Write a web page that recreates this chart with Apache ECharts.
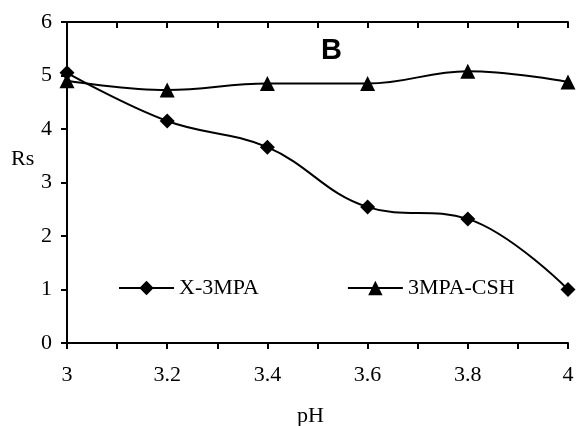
<!DOCTYPE html>
<html>
<head>
<meta charset="utf-8">
<script src="https://cdn.jsdelivr.net/npm/echarts@6/dist/echarts.min.js"></script>
<style>
  html, body { margin: 0; padding: 0; background: #fff; }
  #chart { width: 578px; height: 426px; }
</style>
</head>
<body>
<div id="chart"></div>
<script>
// pH values and the two Rs series
const phValues = [3.0, 3.2, 3.4, 3.6, 3.8, 4.0]
const x3mpa = [5.05, 4.15, 3.66, 2.54, 2.32, 1.0]
const csh3mpa = [4.9, 4.73, 4.85, 4.85, 5.08, 4.88]
const xTickLabels = ['3', '3.2', '3.4', '3.6', '3.8', '4']

const serif = '"Liberation Serif", "Times New Roman", serif'
const black = '#000'

function pairs(ys) {
  return phValues.map((x, i) => [x, ys[i]])
}

function xAxisBase(inside) {
  return {
    type: 'value',
    min: 3,
    max: 4,
    interval: 0.1,
    axisLine: { onZero: false, lineStyle: { color: black, width: 2 } },
    axisTick: { show: true, inside: inside, length: 6, lineStyle: { color: black, width: 2 } },
    splitLine: { show: false }
  }
}

let chart = echarts.init(document.getElementById('chart'), null, { renderer: 'canvas' })
let options = {
  animation: false,
  backgroundColor: '#fff',
  title: {
    text: 'B',
    left: 316,
    top: 31,
    textStyle: { fontFamily: '"Liberation Sans", Arial, sans-serif', fontWeight: 'bold', fontSize: 29, color: black }
  },
  graphic: [
    {
      type: 'text',
      left: 11,
      top: 148,
      style: { text: 'Rs', fontFamily: serif, fontSize: 22, fill: black }
    }
  ],
  grid: { left: 67, right: 10, top: 22, bottom: 83, outerBoundsMode: 'none', containLabel: false },
  legend: {
    left: 118,
    top: 277,
    padding: 0,
    itemWidth: 55,
    itemHeight: 18,
    itemGap: 88,
    textStyle: { fontFamily: serif, fontSize: 22, color: black },
    data: ['X-3MPA', '3MPA-CSH']
  },
  xAxis: [
    Object.assign(xAxisBase(false), {
      name: 'pH',
      nameLocation: 'middle',
      nameGap: 62,
      nameTextStyle: { fontFamily: serif, fontSize: 22, color: black, padding: [0, 14, 0, 0] },
      axisLabel: {
        margin: 21,
        fontFamily: serif,
        fontSize: 22,
        color: black,
        formatter: v => {
          let s = String(Math.round(v * 10) / 10)
          return xTickLabels.includes(s) ? s : ''
        }
      }
    }),
    Object.assign(xAxisBase(true), { axisLabel: { show: false } })
  ],
  yAxis: {
    type: 'value',
    min: 0,
    max: 6,
    interval: 1,
    axisLine: { onZero: false, lineStyle: { color: black, width: 2 } },
    axisTick: { show: true, length: 6, lineStyle: { color: black, width: 2 } },
    axisLabel: { margin: 15, fontFamily: serif, fontSize: 22, color: black },
    splitLine: { show: false }
  },
  series: [
    {
      name: 'X-3MPA',
      type: 'line',
      smooth: 0.4,
      symbol: 'diamond',
      symbolSize: 15,
      showAllSymbol: true,
      itemStyle: { color: black },
      lineStyle: { color: black, width: 2 },
      data: pairs(x3mpa)
    },
    {
      name: '3MPA-CSH',
      type: 'line',
      smooth: 0.4,
      symbol: 'triangle',
      symbolSize: 15,
      showAllSymbol: true,
      itemStyle: { color: black },
      lineStyle: { color: black, width: 2 },
      data: pairs(csh3mpa)
    }
  ]
}
chart.setOption(options)
</script>
</body>
</html>
